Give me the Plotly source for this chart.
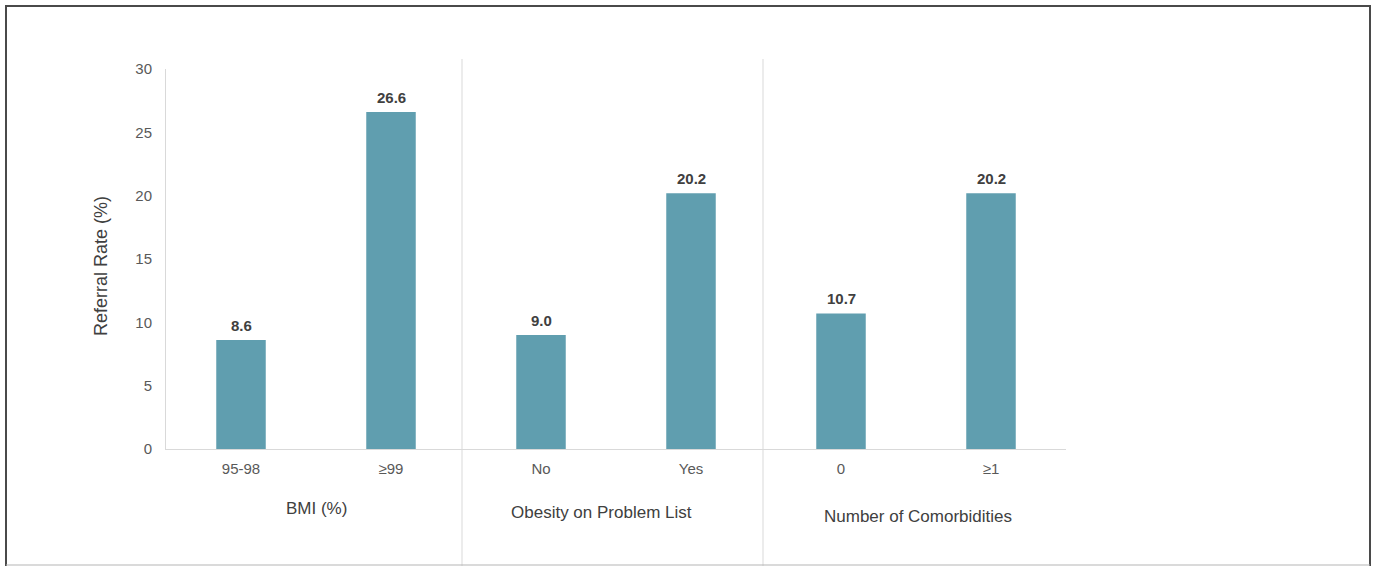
import plotly.graph_objects as go

# Referral rates by patient characteristic
categories = ["95-98", "≥99", "No", "Yes", "0", "≥1"]
referral_rate = [8.6, 26.6, 9.0, 20.2, 10.7, 20.2]
group_titles = ["BMI (%)", "Obesity on Problem List", "Number of Comorbidities"]
y_ticks = [0, 5, 10, 15, 20, 25, 30]

W, H = 1373, 566
L, R, T, B = 166, 1066, 69, 449  # plot area in pixels
PW, PH = R - L, B - T

def px_x(p):
    return (p - L) / PW

def px_y(p):
    return (B - p) / PH

BAR = "#609EAF"
TXT = "#595959"
FONT = "Liberation Sans, Arial, sans-serif"

fig = go.Figure()
fig.add_trace(go.Bar(
    x=list(range(len(categories))), y=referral_rate, marker_color=BAR, width=0.33,
    marker_line_width=0, hoverinfo="skip",
))

annotations = []
for i, v in enumerate(referral_rate):
    annotations.append(dict(
        x=i, y=v, xref="x", yref="y", text=f"<b>{v:.1f}</b>", showarrow=False,
        yanchor="bottom", yshift=4, font=dict(size=15, color="#404040", family=FONT),
    ))

# group titles below the category labels
title_pos = [(316, 508), (601, 512), (918, 516)]
for t, (gx, gy) in zip(group_titles, title_pos):
    annotations.append(dict(
        x=px_x(gx), y=px_y(gy), xref="paper", yref="paper", text=t, showarrow=False,
        xanchor="center", yanchor="middle", font=dict(size=17, color="#404040", family=FONT),
    ))

annotations.append(dict(
    x=px_x(101), y=px_y(266), xref="paper", yref="paper", text="Referral Rate (%)",
    showarrow=False, textangle=-90, xanchor="center", yanchor="middle",
    font=dict(size=18, color="#404040", family=FONT),
))

shapes = []
# separators between groups
for sx in [462, 763]:
    shapes.append(dict(type="line", xref="paper", yref="paper",
                       x0=px_x(sx), x1=px_x(sx), y0=px_y(59), y1=px_y(566),
                       line=dict(color="#d9d9d9", width=1)))
# outer frame
dark = dict(color="#4a4a4a", width=2)
shapes += [
    dict(type="line", xref="paper", yref="paper", x0=px_x(6), x1=px_x(6),
         y0=px_y(6), y1=px_y(566), line=dark),
    dict(type="line", xref="paper", yref="paper", x0=px_x(5), x1=px_x(1371),
         y0=px_y(6), y1=px_y(6), line=dark),
    dict(type="line", xref="paper", yref="paper", x0=px_x(1370), x1=px_x(1370),
         y0=px_y(6), y1=px_y(566), line=dark),
    dict(type="line", xref="paper", yref="paper", x0=px_x(6), x1=px_x(1370),
         y0=px_y(565), y1=px_y(565), line=dict(color="#b5b5b5", width=1)),
]

fig.update_layout(
    width=W, height=H,
    margin=dict(l=L, r=W - R, t=T, b=H - B, pad=0),
    paper_bgcolor="white", plot_bgcolor="white",
    showlegend=False,
    font=dict(family=FONT, color=TXT, size=12),
    annotations=annotations, shapes=shapes,
    xaxis=dict(
        range=[-0.5, 5.5], showgrid=False, zeroline=False,
        tickvals=list(range(len(categories))), ticktext=categories,
        showline=True, linecolor="#d9d9d9", linewidth=1,
        ticks="outside", ticklen=6, tickcolor="rgba(0,0,0,0)",
        tickfont=dict(size=15, color=TXT, family=FONT),
    ),
    yaxis=dict(
        range=[0, 30], tickvals=y_ticks, showgrid=False, zeroline=False,
        showline=True, linecolor="#d9d9d9", linewidth=1,
        ticks="outside", ticklen=10, tickcolor="rgba(0,0,0,0)",
        tickfont=dict(size=15, color=TXT, family=FONT),
    ),
)

fig.write_html("out.html")
